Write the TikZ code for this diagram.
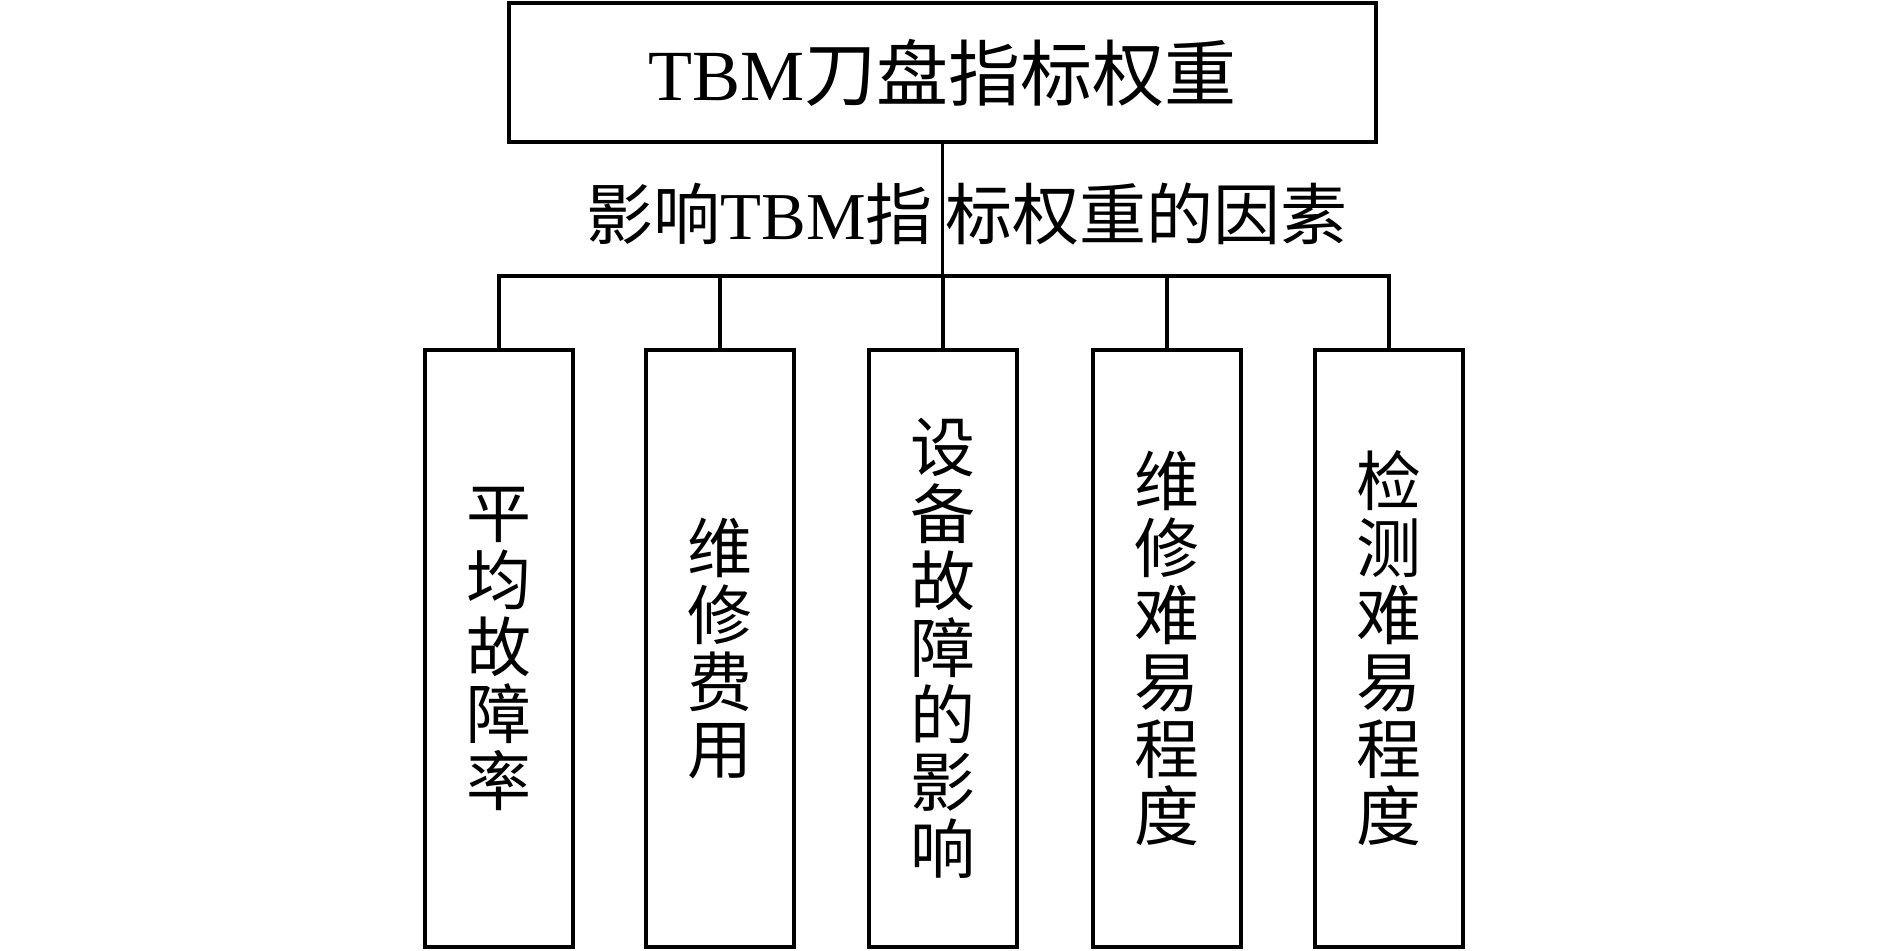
\documentclass[tikz,border=0pt]{standalone}
\usepackage{fontspec}
\setmainfont{Liberation Serif}
\newfontfamily\cjk{Noto Sans CJK SC}
\begin{document}
\begin{tikzpicture}[x=1pt,y=-1pt,line width=3.5pt,
  box/.style={draw, line width=3.5pt, inner sep=0pt},
  leaf/.style={box, minimum width=148pt, minimum height=597pt, align=center,
    font=\cjk\fontsize{65}{67}\selectfont},
  conn/.style={line width=3.5pt}]
\useasboundingbox (0,0) rectangle (1889,950);
\node[box, minimum width=867pt, minimum height=139pt, font=\fontsize{72}{72}\selectfont] (top) at (942.5,72.5) {TBM{\cjk 刀盘指标权重}};
\node[font=\fontsize{67}{67}\selectfont] (lab) at (967,214) {{\cjk 影响}TBM{\cjk 指}\hspace{13pt}{\cjk 标权重的因素}};
\node[leaf] (l1) at (499,648.5) {平\\均\\故\\障\\率};
\node[leaf] (l2) at (720,648.5) {维\\修\\费\\用};
\node[leaf] (l3) at (943,648.5) {设\\备\\故\\障\\的\\影\\响};
\node[leaf] (l4) at (1167,648.5) {维\\修\\难\\易\\程\\度};
\node[leaf] (l5) at (1389,648.5) {检\\测\\难\\易\\程\\度};
\coordinate (hl) at (499,276);
\draw[conn] (top.south) -- (top.south |- hl);
\draw[conn] (l1.north) -- (l1.north |- hl) -| (l5.north);
\draw[conn] (l2.north) -- (l2.north |- hl);
\draw[conn] (l3.north) -- (l3.north |- hl);
\draw[conn] (l4.north) -- (l4.north |- hl);
\end{tikzpicture}
\end{document}
